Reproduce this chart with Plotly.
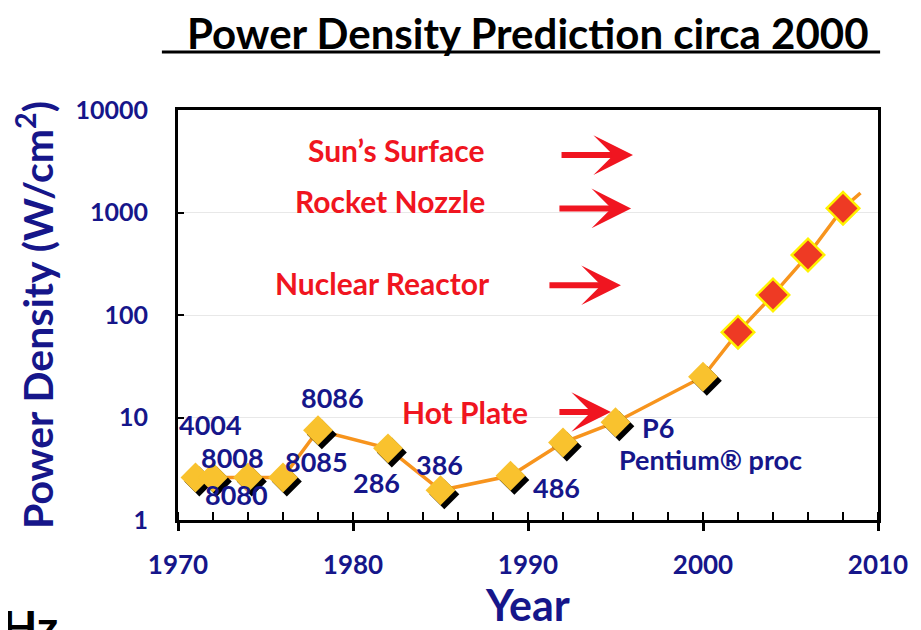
import plotly.graph_objects as go

# ---- data ----
chip_years = [1971, 1972, 1974, 1976, 1978, 1982, 1985, 1989, 1992, 1995, 2000]
chip_density = [2.6, 2.6, 2.6, 2.6, 7.5, 5.0, 1.95, 2.7, 5.7, 9.0, 25]
proj_years = [2002, 2004, 2006, 2008]
proj_density = [68, 157, 385, 1100]
trend_end_year = [2009]
trend_end_density = [1550]

chip_names = ["4004", "8008", "8080", "8085", "8086", "286", "386", "486", "P6", "Pentium® proc"]
chip_label_x = [1971.83, 1973.09, 1973.37, 1977.94, 1978.8, 1981.37, 1984.97, 1991.6, 1997.43, 2000.4]
chip_label_logy = [0.927, 0.605, 0.244, 0.566, 1.20, 0.37, 0.537, 0.32, 0.9, 0.59]

ref_names = ["Sun’s Surface", "Rocket Nozzle", "Nuclear Reactor", "Hot Plate"]
ref_label_x = [1982.46, 1982.11, 1981.66, 1986.4]
ref_label_logy = [3.61, 3.11, 2.31, 1.054]
arrow_start_x = [1991.83, 1991.71, 1991.14, 1991.71]
arrow_end_x = [1996.0, 1995.89, 1995.31, 1994.74]
arrow_logy = [3.56, 3.04, 2.29, 1.054]

x_ticks = [1970, 1980, 1990, 2000, 2010]
y_ticks = [1, 10, 100, 1000, 10000]

NAVY = "#16168a"
RED = "#f01520"
FONT = "Lato"

fig = go.Figure()

all_x = chip_years + proj_years + trend_end_year
all_y = chip_density + proj_density + trend_end_density
fig.add_trace(go.Scatter(x=all_x, y=all_y, mode="lines",
                         line=dict(color="#f7941d", width=3.5), hoverinfo="skip"))

# shadows for yellow markers
shadow_x = [v + 0.22 for v in chip_years]
shadow_y = [v * 10 ** (-0.04) for v in chip_density]
fig.add_trace(go.Scatter(x=shadow_x, y=shadow_y, mode="markers",
                         marker=dict(symbol="diamond", size=23, color="black"), hoverinfo="skip"))
fig.add_trace(go.Scatter(x=chip_years, y=chip_density, mode="markers",
                         marker=dict(symbol="diamond", size=23, color="#f9c22e",
                                     line=dict(width=0))))
fig.add_trace(go.Scatter(x=proj_years, y=proj_density, mode="markers",
                         marker=dict(symbol="diamond", size=25, color="#ee3a24",
                                     line=dict(width=2.5, color="#fff200"))))

ann = []
for name, lx, ly in zip(chip_names, chip_label_x, chip_label_logy):
    ann.append(dict(x=lx, y=ly, xref="x", yref="y", text=name, showarrow=False,
                    font=dict(family=FONT, size=27, color=NAVY, weight="bold")))
for name, lx, ly in zip(ref_names, ref_label_x, ref_label_logy):
    ann.append(dict(x=lx, y=ly, xref="x", yref="y", text=name, showarrow=False,
                    font=dict(family=FONT, size=30, color=RED, weight="bold")))
for sx, ex, ly in zip(arrow_start_x, arrow_end_x, arrow_logy):
    ann.append(dict(x=ex, y=ly, ax=sx, ay=ly, xref="x", yref="y", axref="x", ayref="y",
                    text="", showarrow=True, arrowhead=3, arrowsize=1.1, arrowwidth=6,
                    arrowcolor=RED))
# title
ann.append(dict(x=0.5, y=1.188, xref="paper", yref="paper", xanchor="center", yanchor="middle",
                text="Power Density Prediction circa 2000",
                showarrow=False, font=dict(family=FONT, size=42, color="black", weight="bold")))
# clipped fragment bottom-left
ann.append(dict(x=-0.254, y=-0.188, xref="paper", yref="paper", text="Hz", xanchor="left", yanchor="top",
                showarrow=False, font=dict(family=FONT, size=46, color="black", weight="bold")))

shapes = [dict(type="line", xref="paper", yref="paper", x0=-0.023, x1=1.003, y0=1.1415, y1=1.1415,
               line=dict(color="black", width=3))]

fig.update_layout(
    width=913, height=622,
    margin=dict(l=170, r=43, t=102, b=110),
    paper_bgcolor="white", plot_bgcolor="white",
    showlegend=False,
    annotations=ann, shapes=shapes,
    xaxis=dict(range=[1970, 2010], tickvals=x_ticks, showgrid=False, zeroline=False, automargin=False,
               showline=True, linecolor="black", linewidth=3, mirror=True,
               ticks="outside", ticklen=8, tickwidth=3, tickcolor="black",
               minor=dict(dtick=2, ticks="inside", ticklen=8, tickwidth=2, tickcolor="black"),
               ticklabelstandoff=12,
               tickfont=dict(family=FONT, size=26, color=NAVY, weight="bold"),
               title=dict(text="Year", standoff=2,
                          font=dict(family=FONT, size=43, color=NAVY, weight="bold"))),
    yaxis=dict(type="log", range=[0, 4], tickvals=y_ticks, ticktext=[str(v) for v in y_ticks],
               showgrid=True, gridcolor="#e8e8e8", gridwidth=1, zeroline=False, automargin=False,
               showline=True, linecolor="black", linewidth=3, mirror=True,
               ticks="inside", ticklen=6, tickwidth=2, tickcolor="black",
               ticklabelstandoff=22,
               tickfont=dict(family=FONT, size=25, color=NAVY, weight="bold"),
               title=dict(text="Power Density (W/cm<sup>2</sup>)", standoff=12,
                          font=dict(family=FONT, size=41, color=NAVY, weight="bold"))),
)

fig.write_html("out.html")
